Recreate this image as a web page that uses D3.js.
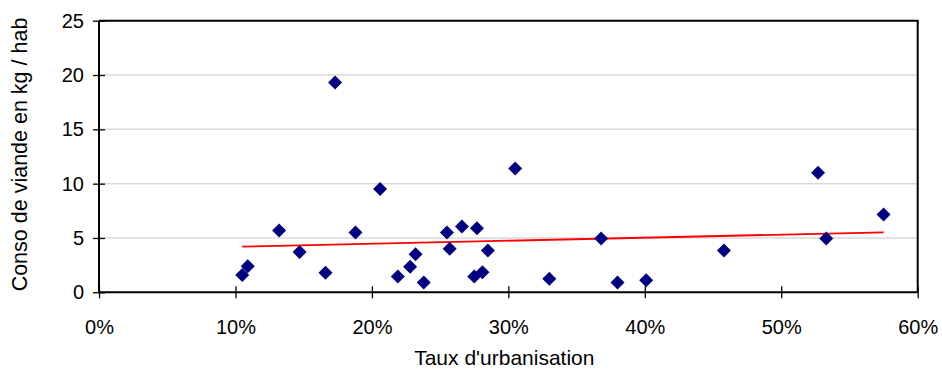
<!DOCTYPE html>
<html><head><meta charset="utf-8">
<script src="https://cdn.jsdelivr.net/npm/d3@7/dist/d3.min.js"></script>
<style>body{margin:0;background:#fff}svg{display:block}text{font-family:"Liberation Sans",Arial,sans-serif}</style>
</head><body><svg id="c" width="942" height="371"></svg>
<script>
// Data: urbanisation rate (%) and meat consumption (kg / inhabitant)
const urbanRate = [10.5, 10.9, 13.2, 14.7, 16.6, 17.3, 18.8, 20.6, 21.9, 22.8, 23.2, 23.8, 25.5, 25.7, 26.6, 27.5, 27.7, 28.1, 28.5, 30.5, 33.0, 36.8, 38.0, 40.1, 45.8, 52.7, 53.3, 57.5];
const meatConso = [1.6, 2.4, 5.7, 3.7, 1.8, 19.3, 5.5, 9.5, 1.45, 2.35, 3.5, 0.9, 5.5, 4.0, 6.05, 1.45, 5.9, 1.85, 3.85, 11.4, 1.25, 4.95, 0.9, 1.1, 3.85, 11.0, 4.95, 7.15];
const trendX = [10.5, 57.5];
const trendY = [4.2, 5.52];
const xTicks = [0, 10, 20, 30, 40, 50, 60];
const yTicks = [0, 5, 10, 15, 20, 25];
const xTitle = "Taux d'urbanisation";
const yTitle = "Conso de viande en kg / hab";

const svg = d3.select("#c");
const L = 99, R = 917.7, T = 20.7, B = 292.3;
const x = d3.scaleLinear().domain([0, 60]).range([L, R]);
const y = d3.scaleLinear().domain([0, 25]).range([B, T]);

// gridlines
svg.append("g").selectAll("line").data(yTicks.filter(d => d > 0 && d < 25)).join("line")
  .attr("x1", L).attr("x2", R).attr("y1", d => y(d)).attr("y2", d => y(d))
  .attr("stroke", "#d9d9d9").attr("stroke-width", 1.5);

// trend line
svg.append("line")
  .attr("x1", x(trendX[0])).attr("y1", y(trendY[0]))
  .attr("x2", x(trendX[1])).attr("y2", y(trendY[1]))
  .attr("stroke", "#ff0000").attr("stroke-width", 1.8);

// points
const pts = urbanRate.map((u, i) => [u, meatConso[i]]);
svg.append("g").selectAll("path").data(pts).join("path")
  .attr("transform", d => `translate(${x(d[0])},${y(d[1])})`)
  .attr("d", "M0,-7L7,0L0,7L-7,0Z")
  .attr("fill", "#000080");

// plot border (top & right)
svg.append("path")
  .attr("d", `M${L},${T}H${R}V${B}`)
  .attr("fill", "none").attr("stroke", "#000").attr("stroke-width", 2);

// axes
const xAxis = d3.axisBottom(x).tickValues(xTicks).tickFormat(d => d + "%").tickSize(6).tickPadding(22);
const gx = svg.append("g").attr("transform", `translate(0,${B})`).call(xAxis);
gx.select(".domain").attr("stroke-width", 2).attr("d", `M${L},0H${R}`);
gx.selectAll(".tick line").attr("y1", -6).attr("y2", 6).attr("stroke-width", 1.3);
gx.selectAll("text").attr("font-size", 20).attr("fill", "#000").attr("font-family", "Liberation Sans, Arial, sans-serif");

const yAxis = d3.axisLeft(y).tickValues(yTicks).tickSize(6).tickPadding(9);
const gy = svg.append("g").attr("transform", `translate(${L},0)`).call(yAxis);
gy.select(".domain").attr("stroke-width", 2).attr("d", `M0,${T}V${B}`);
gy.selectAll(".tick line").attr("x1", -6).attr("x2", 6).attr("stroke-width", 1.3);
gy.selectAll("text").attr("font-size", 20).attr("fill", "#000").attr("font-family", "Liberation Sans, Arial, sans-serif");

// titles
svg.append("text").attr("x", (L + R) / 2 - 4).attr("y", 365).attr("text-anchor", "middle")
  .attr("font-size", 21).text(xTitle);
svg.append("text").attr("transform", `translate(27,${(T + B) / 2 - 2}) rotate(-90)`).attr("text-anchor", "middle")
  .attr("font-size", 21.5).text(yTitle);
</script></body></html>
